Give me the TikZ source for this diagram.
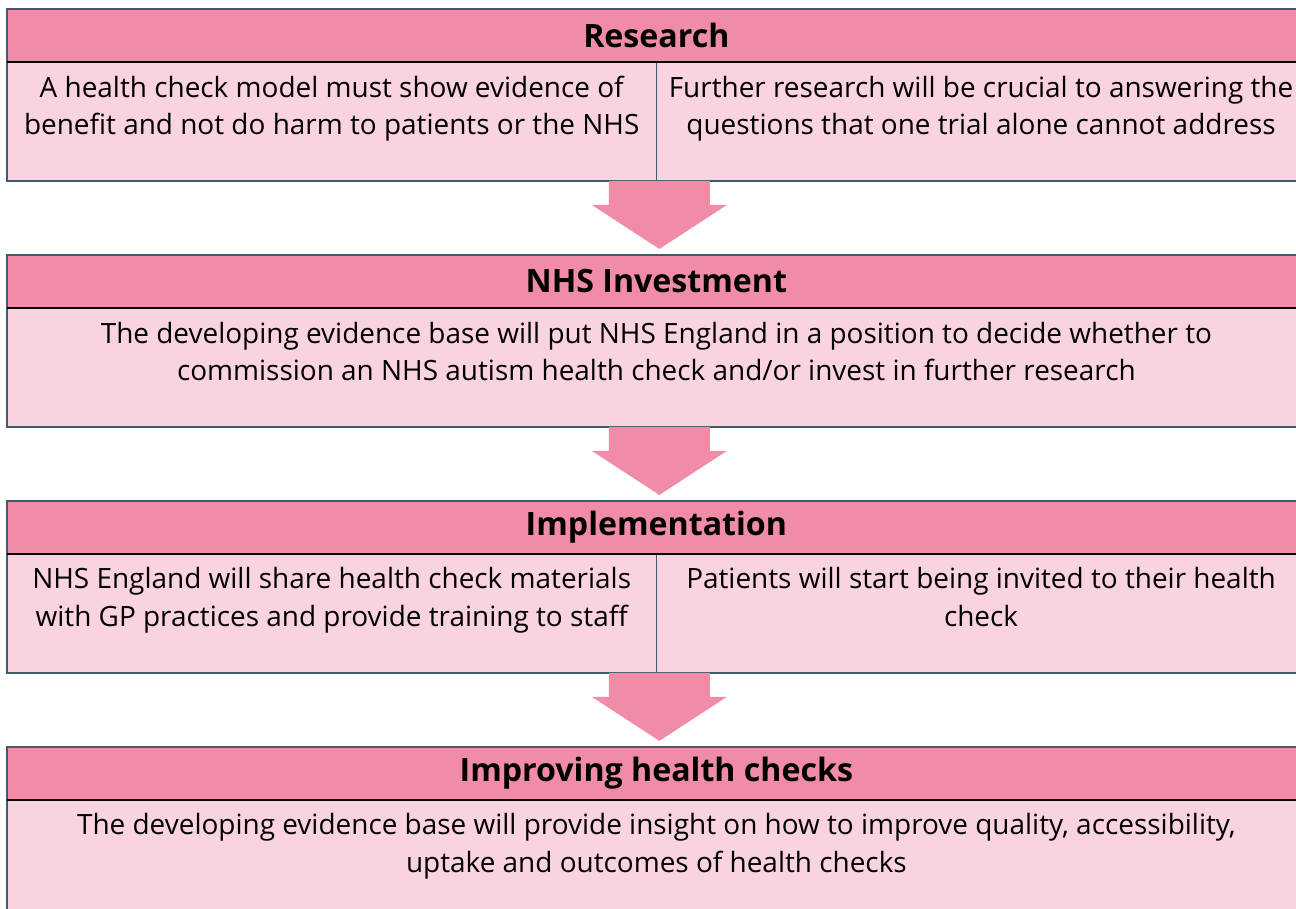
\documentclass[tikz,border=0pt]{standalone}
\usepackage{fontspec}
\setmainfont{Open Sans}
\usetikzlibrary{positioning}
\definecolor{headpink}{RGB}{240,139,168}
\definecolor{bodypink}{RGB}{249,211,223}
\definecolor{edgeslate}{RGB}{62,92,108}

\tikzset{
  headbox/.style={rectangle, draw=edgeslate, line width=0.8pt, fill=headpink, minimum width=25.98cm, minimum height=1.06cm, inner sep=0pt, outer sep=0pt, font=\fontsize{18.3}{22}\selectfont\bfseries},
  fullbox/.style={rectangle, draw=edgeslate, line width=0.8pt, fill=bodypink, minimum width=25.98cm, minimum height=2.38cm, inner sep=0pt, outer sep=0pt},
  halfbox/.style={fullbox, minimum width=12.99cm},
  bodytext/.style={align=center, inner sep=0pt, font=\fontsize{15.9}{21.4}\selectfont},
  splitline/.style={black, line width=1.2pt},
  flowarrow/.style={fill=headpink}
}
% block arrow hanging below a box, tip just above the next one
\newcommand{\stagearrow}[1]{%
  \fill[flowarrow] (#1) ++(-47.5,0) -- ++(101,0) -- ++(0,24) -- ++(17,0)
    -- ++(-67.5,44) -- ++(-67.5,-44) -- ++(17,0) -- cycle;}

\begin{document}
\begin{tikzpicture}[x=0.02cm, y=-0.02cm]
    \useasboundingbox (0,0) rectangle (1296,909);
    \clip (0,0) rectangle (1296,909);

    % Research
    \node (reshead) [headbox, anchor=north west] at (7,9) {Research};
    \node (resleft) [halfbox, anchor=north west] at (reshead.south west) {};
    \node (resright) [halfbox, anchor=north west] at (resleft.north east) {};
    \draw[splitline] (reshead.south west) -- (reshead.south east);
    \node (restextl) [bodytext, below=0.27cm of resleft.north] {A health check model must show evidence of\\benefit and not do harm to patients or the NHS};
    \node (restextr) [bodytext, below=0.27cm of resright.north] {Further research will be crucial to answering the\\questions that one trial alone cannot address};

    % NHS Investment
    \node (invhead) [headbox, below=1.48cm of resleft.south west, anchor=north west] {NHS Investment};
    \node (invbody) [fullbox, anchor=north west] at (invhead.south west) {};
    \draw[splitline] (invhead.south west) -- (invhead.south east);
    \node (invtext) [bodytext, below=0.27cm of invbody.north] {The developing evidence base will put NHS England in a position to decide whether to\\commission an NHS autism health check and/or invest in further research};

    % Implementation
    \node (imphead) [headbox, below=1.48cm of invbody.south west, anchor=north west] {Implementation};
    \node (impleft) [halfbox, anchor=north west] at (imphead.south west) {};
    \node (impright) [halfbox, anchor=north west] at (impleft.north east) {};
    \draw[splitline] (imphead.south west) -- (imphead.south east);
    \node (imptextl) [bodytext, below=0.27cm of impleft.north] {NHS England will share health check materials\\with GP practices and provide training to staff};
    \node (imptextr) [bodytext, below=0.27cm of impright.north] {Patients will start being invited to their health\\check};

    % Improving health checks
    \node (improvhead) [headbox, below=1.48cm of impleft.south west, anchor=north west] {Improving health checks};
    \node (improvbody) [fullbox, anchor=north west] at (improvhead.south west) {};
    \draw[splitline] (improvhead.south west) -- (improvhead.south east);
    \node (improvtext) [bodytext, below=0.27cm of improvbody.north] {The developing evidence base will provide insight on how to improve quality, accessibility,\\uptake and outcomes of health checks};

    % arrows between the stages
    \stagearrow{resleft.south east}
    \stagearrow{invbody.south}
    \stagearrow{impleft.south east}
\end{tikzpicture}
\end{document}
